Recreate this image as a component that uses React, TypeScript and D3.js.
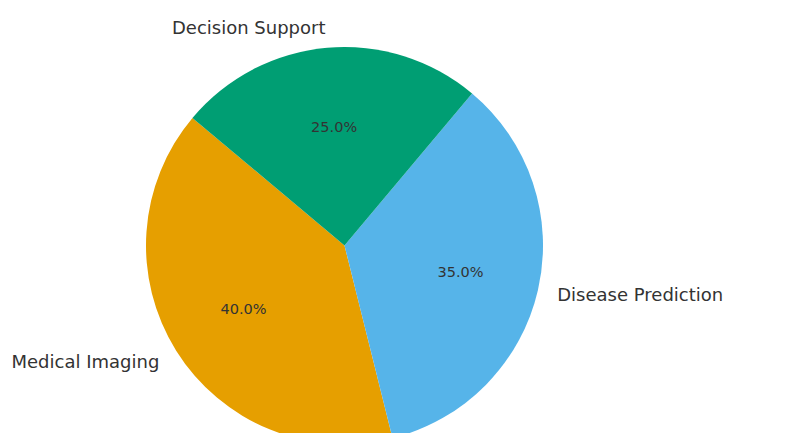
import React from "react";
import * as d3 from "d3";

const categories = ["Medical Imaging", "Disease Prediction", "Decision Support"];
const values = [40, 35, 25];
const colors = ["#E69F00", "#56B4E9", "#009E73"];

const W = 812;
const H = 441;
const cx = 344.5;
const cy = 245.5;
const R = 198.5;
const startDeg = 140;

export default function App() {
  const total = d3.sum(values);
  const angle = d3
    .scaleLinear()
    .domain([0, total])
    .range([0, 2 * Math.PI]);
  let acc = 0;
  const slices = values.map((v, i) => {
    const a0 = angle(acc);
    acc += v;
    const a1 = angle(acc);
    return { i, v, a0, a1 };
  });
  const start = (startDeg * Math.PI) / 180;
  // math angle (ccw from +x) -> d3 angle (cw from 12 o'clock)
  const toD3 = (t: number) => Math.PI / 2 - t;
  const arc = d3.arc<any>().innerRadius(0).outerRadius(R);

  return (
    <div style={{ margin: -8 }}>
      <svg width={W} height={H} style={{ display: "block", background: "#fff" }}>
        <rect x={35} y={0} width={700} height={5} fill="#d6ecef" opacity={0.8} />
        <g transform={`translate(${cx},${cy})`}>
          {slices.map((s) => {
            const t0 = start + s.a0;
            const t1 = start + s.a1;
            const path = arc({ startAngle: toD3(t1), endAngle: toD3(t0) }) as string;
            return <path key={s.i} d={path} fill={colors[s.i]} />;
          })}
          {slices.map((s) => {
            const tm = start + (s.a0 + s.a1) / 2;
            const xt = 1.1 * R * Math.cos(tm);
            const yt = -1.1 * R * Math.sin(tm);
            const xp = 0.6 * R * Math.cos(tm);
            const yp = -0.6 * R * Math.sin(tm);
            return (
              <g key={"t" + s.i}>
                <text
                  x={xt}
                  y={yt}
                  textAnchor={xt > 0 ? "start" : "end"}
                  dominantBaseline="central"
                  fontFamily="DejaVu Sans"
                  fontSize={18}
                  fill="#333"
                >
                  {categories[s.i]}
                </text>
                <text
                  x={xp}
                  y={yp}
                  textAnchor="middle"
                  dominantBaseline="central"
                  fontFamily="DejaVu Sans"
                  fontSize={14.5}
                  fill="#333"
                >
                  {((s.v / total) * 100).toFixed(1) + "%"}
                </text>
              </g>
            );
          })}
        </g>
      </svg>
    </div>
  );
}
